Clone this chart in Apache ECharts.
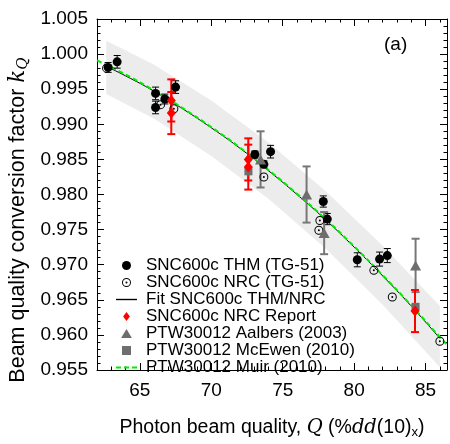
<!DOCTYPE html>
<html>
<head>
<meta charset="utf-8">
<script src="https://cdn.jsdelivr.net/npm/echarts@6/dist/echarts.min.js"></script>
<style>
html, body { margin: 0; padding: 0; background: #fff; }
#chart { width: 450px; height: 444px; }
</style>
</head>
<body>
<div id="chart"></div>
<script>
// SNC600c THM (TG-51): [Q, kQ, uncertainty]
const thm = [
  [62.78, 0.9981, 0.0007], [63.41, 0.9989, 0.0009], [66.1, 0.9944, 0.0009],
  [66.1, 0.9924, 0.0009], [66.75, 0.9936, 0.0007], [67.5, 0.9953, 0.0009],
  [73.05, 0.9857, 0.0005], [73.68, 0.9843, 0.0005], [74.15, 0.9861, 0.0009],
  [77.84, 0.9790, 0.0008], [78.12, 0.9765, 0.0008], [80.22, 0.9707, 0.0010],
  [81.78, 0.9708, 0.0010], [82.32, 0.9713, 0.0010]
]
// SNC600c NRC (TG-51)
const nrc = [
  [62.67, 0.9980], [66.45, 0.9928], [67.38, 0.9922], [73.68, 0.9825],
  [77.6, 0.9763], [77.53, 0.9749], [81.38, 0.9692], [82.67, 0.9654], [86.0, 0.9591]
]
// SNC600c NRC Report: [Q, kQ, uncertainty]
const report = [
  [67.2, 0.9934, 0.0030], [67.2, 0.9916, 0.0030], [72.59, 0.9850, 0.0030],
  [72.59, 0.9839, 0.0032], [84.26, 0.9634, 0.0030]
]
// PTW30012 Aalbers (2003): [Q, kQ, uncertainty]
const aalbers = [
  [73.45, 0.9850, 0.0040], [76.67, 0.9800, 0.0040], [77.9, 0.9745, 0.0030], [84.3, 0.9699, 0.0038]
]
// PTW30012 McEwen (2010)
const mcewen = [[72.6, 0.9833], [84.3, 0.9640]]
// Fit SNC600c THM/NRC
const fitQ = [62.7, 64, 66, 68, 70, 72, 74, 76, 78, 80, 82, 84, 86]
const fitK = [0.9982, 0.9969, 0.9947, 0.9922, 0.9895, 0.9866, 0.9834, 0.9800, 0.9764, 0.9725, 0.9684, 0.9641, 0.9595]
// PTW30012 Muir (2010)
const muirQ = [62, 64, 66, 68, 70, 72, 74, 76, 78, 80, 82, 84, 86, 86.5]
const muirK = [0.9991, 0.9971, 0.9948, 0.9923, 0.9896, 0.9867, 0.9835, 0.9801, 0.9765, 0.9726, 0.9685, 0.9642, 0.9597, 0.9586]
// grey uncertainty band around the fit
const bandQ = [62.65, 66, 70, 74, 78, 82, 86]
const bandUpper = [1.0019, 0.9985, 0.9934, 0.9874, 0.9805, 0.9727, 0.9641]
const bandLower = [0.9943, 0.9908, 0.9855, 0.9794, 0.9723, 0.9643, 0.9554]

const xMajor = [65, 70, 75, 80, 85]

const FONT = '"Liberation Sans", Arial, sans-serif'
const SERIF = '"DejaVu Serif", "Liberation Serif", serif'
const openCircle = 'path://M0 -10A10 10 0 1 1 0 10A10 10 0 1 1 0 -10ZM0 -7.8A7.8 7.8 0 1 0 0 7.8A7.8 7.8 0 1 0 0 -7.8ZM0 -2.2A2.2 2.2 0 1 1 0 2.2A2.2 2.2 0 1 1 0 -2.2Z'
// legend icons (paths keep their aspect inside the legend box)
const icons = {
  line: 'path://M0 0H20V1.3H0Z',
  dashed: 'path://M0 0H5V2H0ZM8 0H13V2H8ZM16 0H21V2H16Z',
  diamond: 'path://M0 -6L4.5 0L0 6L-4.5 0Z',
  triangle: 'path://M0 0L6 -10L12 0Z',
  square: 'path://M0 0H8V8H0Z'
}

function errorBars (color, width, cap) {
  return function (params, api) {
    const x = api.value(0), y = api.value(1), e = api.value(2)
    const top = api.coord([x, y + e])
    const bot = api.coord([x, y - e])
    const style = { stroke: color, lineWidth: width }
    return {
      type: 'group',
      children: [
        { type: 'line', shape: { x1: top[0], y1: top[1], x2: bot[0], y2: bot[1] }, style },
        { type: 'line', shape: { x1: top[0] - cap, y1: top[1], x2: top[0] + cap, y2: top[1] }, style },
        { type: 'line', shape: { x1: bot[0] - cap, y1: bot[1], x2: bot[0] + cap, y2: bot[1] }, style }
      ]
    }
  }
}

const chart = echarts.init(document.getElementById('chart'), null, { renderer: 'canvas' })

const minorX = { type: 'value', min: 62, max: 86.5, interval: 1, splitLine: { show: false } }
const majorX = { type: 'value', min: 62, max: 86.5, interval: 1, splitLine: { show: false },
  axisLine: { show: false }, axisLabel: { show: false },
  axisTick: { inside: true, length: 7, customValues: xMajor, lineStyle: { color: '#000' } } }
const yBase = { type: 'value', min: 0.955, max: 1.005, interval: 0.005, splitLine: { show: false },
  axisLine: { show: true, lineStyle: { color: '#000', width: 1 } },
  axisTick: { inside: true, length: 7, lineStyle: { color: '#000' } },
  minorTick: { show: true, splitNumber: 5, length: 3.5, lineStyle: { color: '#000' } } }

const option = {
  animation: false,
  textStyle: { fontFamily: FONT },
  grid: { left: 97, right: 3, top: 19, bottom: 59 },
  xAxis: [
    Object.assign({}, minorX, {
      position: 'bottom',
      axisLine: { lineStyle: { color: '#000', width: 1 } },
      axisTick: { inside: true, length: 3.5, lineStyle: { color: '#000' } },
      axisLabel: { customValues: xMajor, color: '#000', fontSize: 19, fontFamily: FONT, margin: 11 },
      name: '{t|Photon beam quality, }{i|Q}{t| (%}{i|dd}{t|(10)}{s|x}{t|)}',
      nameLocation: 'middle',
      nameGap: 47,
      nameTextStyle: {
        rich: {
          t: { fontSize: 19.5, fontFamily: FONT, color: '#000' },
          i: { fontSize: 19.5, fontFamily: SERIF, fontStyle: 'italic', color: '#000' },
          s: { fontSize: 13, fontFamily: FONT, color: '#000', padding: [9, 0, 0, 0] }
        }
      }
    }),
    Object.assign({}, majorX, { position: 'bottom' }),
    Object.assign({}, minorX, {
      position: 'top',
      axisLine: { lineStyle: { color: '#000', width: 1 } },
      axisTick: { inside: true, length: 3.5, lineStyle: { color: '#000' } },
      axisLabel: { show: false }
    }),
    Object.assign({}, majorX, { position: 'top' })
  ],
  yAxis: [
    Object.assign({}, yBase, {
      position: 'left',
      axisLabel: { color: '#000', fontSize: 19, fontFamily: FONT, margin: 9, formatter: v => v.toFixed(3) }
    }),
    Object.assign({}, yBase, { position: 'right', axisLabel: { show: false } })
  ],
  legend: {
    orient: 'vertical',
    left: 116,
    top: 257,
    padding: 0,
    itemWidth: 21,
    itemHeight: 9,
    itemGap: 0,
    selectedMode: false,
    textStyle: { fontSize: 17, fontFamily: FONT, color: '#000', lineHeight: 17, padding: [0, 0, 0, 4] },
    data: [
      { name: 'SNC600c THM (TG-51)', icon: 'circle' },
      { name: 'SNC600c NRC (TG-51)', icon: openCircle },
      { name: 'Fit SNC600c THM/NRC', icon: icons.line },
      { name: 'SNC600c NRC Report', icon: icons.diamond },
      { name: 'PTW30012 Aalbers (2003)', icon: icons.triangle },
      { name: 'PTW30012 McEwen (2010)', icon: icons.square },
      { name: 'PTW30012 Muir (2010)', icon: icons.dashed }
    ]
  },
  graphic: [
    { type: 'text', left: 384, top: 35, style: { text: '(a)', font: '19px ' + FONT, fill: '#000' } },
    {
      type: 'text',
      x: 18,
      y: 220,
      rotation: Math.PI / 2,
      style: {
        text: '{t|Beam quality conversion factor }{i|k}{s|Q}',
        align: 'center',
        verticalAlign: 'middle',
        rich: {
          t: { fontSize: 21.5, fontFamily: FONT, fill: '#000' },
          i: { fontSize: 21.5, fontFamily: SERIF, fontStyle: 'italic', fill: '#000' },
          s: { fontSize: 15, fontFamily: SERIF, fontStyle: 'italic', fill: '#000', padding: [10, 0, 0, 0] }
        }
      }
    }
  ],
  series: [
    {
      name: 'band',
      type: 'custom',
      z: 1,
      silent: true,
      data: bandQ.map((q, i) => [q, bandLower[i], bandUpper[i]]),
      encode: { x: 0, y: [1, 2] },
      renderItem: function (params, api) {
        if (params.dataIndex !== 0) return null
        const pts = []
        bandQ.forEach((q, i) => pts.push(api.coord([q, bandUpper[i]])))
        for (let i = bandQ.length - 1; i >= 0; i--) pts.push(api.coord([bandQ[i], bandLower[i]]))
        return { type: 'polygon', shape: { points: pts }, style: { fill: '#ececec' } }
      }
    },
    {
      name: 'Fit SNC600c THM/NRC',
      type: 'line',
      z: 2,
      smooth: true,
      symbol: 'none',
      data: fitQ.map((q, i) => [q, fitK[i]]),
      itemStyle: { color: '#000' },
      lineStyle: { color: '#000', width: 1 }
    },
    {
      name: 'PTW30012 Muir (2010)',
      type: 'line',
      z: 3,
      smooth: true,
      symbol: 'none',
      data: muirQ.map((q, i) => [q, muirK[i]]),
      itemStyle: { color: '#00ee00' },
      lineStyle: { color: '#00ee00', width: 2, type: [5, 3] }
    },
    {
      name: 'thm err', type: 'custom', z: 4, silent: true,
      data: thm, encode: { x: 0, y: 1 },
      renderItem: errorBars('#000', 1, 3.5)
    },
    {
      name: 'aalbers err', type: 'custom', z: 4, silent: true,
      data: aalbers, encode: { x: 0, y: 1 },
      renderItem: errorBars('#777', 2, 4)
    },
    {
      name: 'report err', type: 'custom', z: 5, silent: true,
      data: report, encode: { x: 0, y: 1 },
      renderItem: errorBars('#ff0000', 2, 4)
    },
    {
      name: 'SNC600c NRC (TG-51)', type: 'scatter', z: 6,
      symbol: openCircle, symbolSize: 9,
      data: nrc, itemStyle: { color: '#000', opacity: 1 }
    },
    {
      name: 'SNC600c THM (TG-51)', type: 'scatter', z: 6,
      symbol: 'circle', symbolSize: 9,
      data: thm.map(d => [d[0], d[1]]), itemStyle: { color: '#000', opacity: 1 }
    },
    {
      name: 'PTW30012 Aalbers (2003)', type: 'scatter', z: 6,
      symbol: 'triangle', symbolSize: [11, 10],
      data: aalbers.map(d => [d[0], d[1]]), itemStyle: { color: '#6e6e6e', opacity: 1 }
    },
    {
      name: 'PTW30012 McEwen (2010)', type: 'scatter', z: 6,
      symbol: 'rect', symbolSize: 8,
      data: mcewen, itemStyle: { color: '#6e6e6e', opacity: 1 }
    },
    {
      name: 'SNC600c NRC Report', type: 'scatter', z: 7,
      symbol: 'diamond', symbolSize: [9, 11],
      data: report.map(d => [d[0], d[1]]), itemStyle: { color: '#ff0000', opacity: 1 }
    }
  ]
}

chart.setOption(option)
</script>
</body>
</html>
